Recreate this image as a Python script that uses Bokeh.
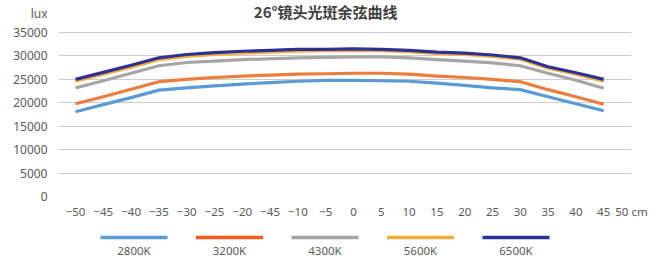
from bokeh.plotting import figure
from bokeh.layouts import column
from bokeh.models import Range1d, FixedTicker, ColumnDataSource
from bokeh.core.properties import value
from bokeh.embed import file_html
from bokeh.resources import INLINE

# ---- data ----
positions = [-50, -45, -40, -35, -30, -25, -20, -15, -10, -5, 0, 5, 10, 15, 20, 25, 30, 35, 40, 45]
lux_2800 = [18100, 19600, 21100, 22700, 23200, 23600, 24000, 24300, 24600, 24800,
            24800, 24700, 24600, 24200, 23700, 23200, 22800, 21300, 19800, 18300]
lux_3200 = [19800, 21300, 22900, 24500, 25000, 25400, 25700, 25900, 26100, 26200,
            26300, 26300, 26100, 25700, 25400, 25000, 24500, 22800, 21300, 19700]
lux_4300 = [23150, 24700, 26300, 27900, 28600, 28900, 29200, 29400, 29600, 29700,
            29800, 29800, 29600, 29200, 28900, 28500, 27900, 26300, 24800, 23100]
lux_5600 = [24600, 26100, 27600, 29200, 29900, 30300, 30600, 30800, 31000, 31100,
            31200, 31100, 30900, 30500, 30300, 29900, 29300, 27400, 26100, 24600]
lux_6500 = [25000, 26500, 28000, 29600, 30300, 30700, 31000, 31200, 31400, 31400,
            31500, 31400, 31200, 30800, 30600, 30200, 29600, 27700, 26400, 25000]

series_names = ["2800K", "3200K", "4300K", "5600K", "6500K"]
series_values = [lux_2800, lux_3200, lux_4300, lux_5600, lux_6500]
line_colors = ["#5b9bd5", "#ed7d3e", "#a5a5a5", "#f4b042", "#2e3192"]
legend_colors = ["#5b9bd5", "#f65a1a", "#a5a5a5", "#f5ab3c", "#2e3192"]

x_ticks = [-50, -45, -40, -35, -30, -25, -20, -15, -10, -5, 0, 5, 10, 15, 20, 25, 30, 35, 40, 45, 50]
x_tick_labels = ["−50", "−45", "−40", "−35", "−30", "−25", "−20", "−45", "−10", "−5",
                 "0", "5", "10", "15", "20", "25", "30", "35", "40", "45", "50 cm"]
y_ticks = [0, 5000, 10000, 15000, 20000, 25000, 30000, 35000]

title_text = "26°镜头光斑余弦曲线"
y_unit = "lux"

# ---- layout constants (pixels / range ends) ----
FONT = "Noto Sans"
TXT = "#595959"
W = 654
H_MAIN, H_LEG = 222, 36
BL, BR = 58, 23
X0, X1 = -53.06, 50.0
Y_TOP = 41829          # range end so that the frame reaches the top of the canvas
UNIT_POS = 39055       # where the unit text sits on the value axis
TITLE_X = -5.0

# ---- main chart ----
p = figure(width=W, height=H_MAIN, output_backend="svg", toolbar_location=None,
           x_range=Range1d(X0, X1), y_range=Range1d(0, Y_TOP),
           min_border_left=BL, min_border_right=BR, min_border_top=0, min_border_bottom=26)
p.outline_line_color = None
p.background_fill_color = "white"
p.border_fill_color = "white"

for name, vals, col in zip(series_names, series_values, line_colors):
    src = ColumnDataSource(dict(x=positions, y=vals))
    p.line("x", "y", source=src, line_color=col, line_width=3.2, line_join="round")

p.xaxis.ticker = FixedTicker(ticks=x_ticks)
p.xaxis.major_label_overrides = {t: l for t, l in zip(x_ticks, x_tick_labels)}
p.yaxis.ticker = FixedTicker(ticks=y_ticks + [UNIT_POS])
p.yaxis.major_label_overrides = {UNIT_POS: y_unit}
for ax in (p.xaxis, p.yaxis):
    ax.axis_line_color = None
    ax.major_tick_line_color = None
    ax.minor_tick_line_color = None
    ax.major_tick_out = 0
    ax.major_tick_in = 0
    ax.major_label_text_font = FONT
    ax.major_label_text_color = TXT
p.xaxis.major_label_text_font_size = "11.5px"
p.yaxis.major_label_text_font_size = "12px"
p.xaxis.major_label_standoff = 7
p.yaxis.major_label_standoff = 11

p.xgrid.grid_line_color = None
p.ygrid.ticker = FixedTicker(ticks=y_ticks)
p.ygrid.grid_line_color = "#cccccc"
p.ygrid.grid_line_width = 1

p.text(x=[TITLE_X], y=[Y_TOP], text=[title_text], text_align="center", text_baseline="top",
       text_font=value("Noto Sans CJK SC"), text_font_style="bold",
       text_font_size="15px", text_color="#404040")

# ---- legend strip (labels under the line swatches) ----
leg = figure(width=W, height=H_LEG, output_backend="svg", toolbar_location=None,
             x_range=Range1d(-0.7906, 5.2094), y_range=Range1d(H_LEG, 0),
             x_axis_type=None, y_axis_type=None,
             min_border_left=BL, min_border_right=BR,
             min_border_top=0, min_border_bottom=0)
leg.outline_line_color = None
leg.background_fill_color = "white"
leg.border_fill_color = "white"
leg.xgrid.visible = False
leg.ygrid.visible = False
idx = list(range(len(series_names)))
leg.segment(x0=[i - 0.351 for i in idx], x1=[i + 0.351 for i in idx],
            y0=[15] * len(idx), y1=[15] * len(idx),
            line_color=legend_colors, line_width=3.5)
leg.text(x=idx, y=[28] * len(idx), text=series_names, text_align="center",
         text_baseline="middle", text_font=value(FONT), text_font_size="11.5px",
         text_color=TXT)

layout = column(p, leg, spacing=0)
open("out.html", "w").write(file_html(layout, INLINE))
